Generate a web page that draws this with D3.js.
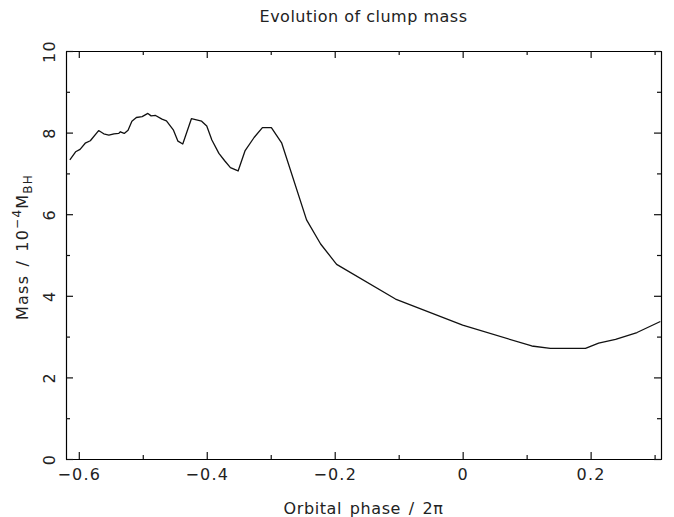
<!DOCTYPE html>
<html>
<head>
<meta charset="utf-8">
<script src="https://d3js.org/d3.v7.min.js"></script>
<style>
  body { margin: 0; background: #fff; }
  text { font-family: "DejaVu Sans", sans-serif; fill: #222; letter-spacing: 1.2px; }
</style>
</head>
<body>
<script>
// orbital phase / 2pi
const phase = [-0.614, -0.605, -0.598, -0.590, -0.582, -0.569, -0.561, -0.553, -0.545, -0.5375,
  -0.535, -0.529, -0.523, -0.517, -0.510, -0.501, -0.492, -0.487, -0.480, -0.470,
  -0.463, -0.452, -0.445, -0.4375, -0.424, -0.416, -0.408, -0.400, -0.392, -0.381,
  -0.372, -0.363, -0.351, -0.340, -0.326, -0.313, -0.299, -0.283, -0.244, -0.222,
  -0.197, -0.105, 0.000, 0.108, 0.137, 0.192, 0.2125, 0.239, 0.2725, 0.309];
// clump mass, units of 1e-4 M_BH
const mass = [7.33, 7.53, 7.59, 7.74, 7.80, 8.05, 7.97, 7.94, 7.97, 7.98,
  8.02, 7.98, 8.06, 8.28, 8.37, 8.39, 8.47, 8.41, 8.42, 8.33,
  8.29, 8.06, 7.79, 7.72, 8.34, 8.31, 8.28, 8.16, 7.82, 7.49,
  7.31, 7.14, 7.06, 7.56, 7.88, 8.12, 8.12, 7.75, 5.86, 5.27,
  4.77, 3.92, 3.28, 2.77, 2.71, 2.71, 2.84, 2.93, 3.10, 3.37];

const xMajor = [-0.6, -0.4, -0.2, 0, 0.2];
const xMinor = [-0.5, -0.3, -0.1, 0.1, 0.3];
const yMajor = [0, 2, 4, 6, 8, 10];
const yMinor = [1, 3, 5, 7, 9];

let width = 674, height = 517;
let margin = {left: 66, right: 13, top: 51, bottom: 58};

let svg = d3.select("body").append("svg")
    .attr("width", width)
    .attr("height", height);

let x = d3.scaleLinear().domain([-0.62, 0.31]).range([margin.left, width - margin.right]);
let y = d3.scaleLinear().domain([0, 10]).range([height - margin.bottom, margin.top]);

let fmt = d3.format("");

// axes: ticks point inward on all four sides
function axis(gen, scale, vals, size, labels) {
    return gen(scale).tickValues(vals).tickSizeInner(size).tickSizeOuter(0)
        .tickFormat(labels ? fmt : "");
}
function styleAxis(g) {
    g.select(".domain").attr("stroke", "#111").attr("stroke-width", 1.2);
    g.selectAll(".tick line").attr("stroke", "#111").attr("stroke-width", 1.2);
}

let gx = svg.append("g").attr("transform", `translate(0,${y(0)})`);
gx.call(axis(d3.axisBottom, x, xMajor, -7, true));
gx.append("g").call(axis(d3.axisBottom, x, xMinor, -4, false));
gx.selectAll(".tick text").attr("y", 10).attr("dy", "0.71em")
    .attr("font-size", 16).attr("fill", "#222").attr("font-family", "DejaVu Sans, sans-serif");
styleAxis(gx);

let gt = svg.append("g").attr("transform", `translate(0,${y(10)})`);
gt.call(axis(d3.axisTop, x, xMajor, -7, false));
gt.append("g").call(axis(d3.axisTop, x, xMinor, -4, false));
styleAxis(gt);

let gy = svg.append("g").attr("transform", `translate(${x(-0.62)},0)`);
gy.call(axis(d3.axisLeft, y, yMajor, -7, true));
gy.append("g").call(axis(d3.axisLeft, y, yMinor, -4, false));
gy.selectAll(".tick text")
    .attr("x", null).attr("dy", null)
    .attr("text-anchor", "middle")
    .attr("transform", "translate(-11,0) rotate(-90)")
    .attr("font-size", 16).attr("fill", "#222").attr("font-family", "DejaVu Sans, sans-serif");
styleAxis(gy);

let gr = svg.append("g").attr("transform", `translate(${x(0.31)},0)`);
gr.call(axis(d3.axisRight, y, yMajor, -7, false));
gr.append("g").call(axis(d3.axisRight, y, yMinor, -4, false));
styleAxis(gr);

// the curve
let pts = phase.map((p, i) => [p, mass[i]]);
svg.append("path")
    .datum(pts)
    .attr("fill", "none")
    .attr("stroke", "#111")
    .attr("stroke-width", 1.3)
    .attr("stroke-linejoin", "round")
    .attr("d", d3.line().x(d => x(d[0])).y(d => y(d[1])));

// labels
let cx = (x.range()[0] + x.range()[1]) / 2;
svg.append("text")
    .attr("x", cx).attr("y", 22)
    .attr("text-anchor", "middle").attr("font-size", 16)
    .style("letter-spacing", "0.5px")
    .text("Evolution of clump mass");

svg.append("text")
    .attr("x", cx).attr("y", 514)
    .attr("text-anchor", "middle").attr("font-size", 16)
    .style("letter-spacing", "0.6px")
    .attr("word-spacing", 2)
    .text("Orbital phase / 2π");

let yl = svg.append("text")
    .attr("transform", `translate(28,247) rotate(-90)`)
    .attr("text-anchor", "middle").attr("font-size", 16);
yl.append("tspan").attr("word-spacing", 2).text("Mass / 10");
yl.append("tspan").attr("dy", -7).attr("font-size", 12).text("−4");
yl.append("tspan").attr("dy", 7).text("M");
yl.append("tspan").attr("dy", 4).attr("font-size", 12).text("BH");
</script>
</body>
</html>
